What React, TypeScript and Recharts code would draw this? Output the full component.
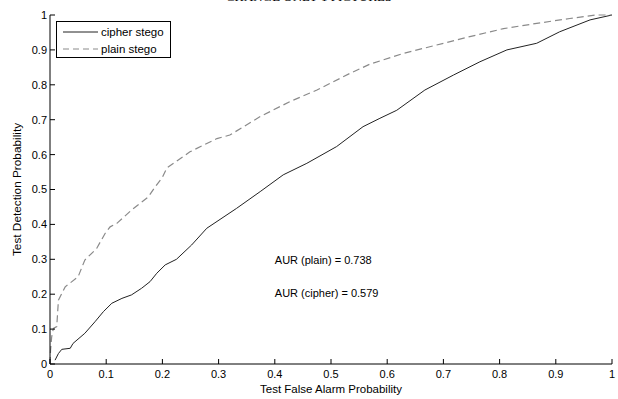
import React from 'react';
import { LineChart, Line, XAxis, YAxis, Legend, ReferenceDot } from 'recharts';

const cipherX = [0.009, 0.015, 0.021, 0.036, 0.041, 0.062, 0.08, 0.095, 0.11, 0.128, 0.145, 0.163, 0.178, 0.19, 0.205, 0.225, 0.252, 0.279, 0.332, 0.374, 0.415, 0.457, 0.51, 0.557, 0.587, 0.617, 0.667, 0.718, 0.765, 0.813, 0.866, 0.907, 0.961, 1.0];
const cipherY = [0.011, 0.03, 0.042, 0.045, 0.059, 0.088, 0.121, 0.15, 0.174, 0.188, 0.198, 0.217, 0.236, 0.26, 0.284, 0.3, 0.341, 0.389, 0.446, 0.494, 0.542, 0.575, 0.623, 0.68, 0.704, 0.727, 0.785, 0.828, 0.866, 0.9, 0.919, 0.952, 0.986, 1.0];

const plainX = [0, 0.001, 0.003, 0.006, 0.012, 0.015, 0.027, 0.05, 0.062, 0.083, 0.098, 0.107, 0.119, 0.145, 0.175, 0.186, 0.2, 0.208, 0.249, 0.297, 0.32, 0.374, 0.427, 0.475, 0.534, 0.569, 0.629, 0.688, 0.747, 0.807, 0.866, 0.925, 0.97, 1.0];
const plainY = [0, 0.04, 0.078, 0.102, 0.107, 0.183, 0.221, 0.25, 0.298, 0.331, 0.374, 0.393, 0.403, 0.441, 0.479, 0.505, 0.535, 0.562, 0.608, 0.646, 0.656, 0.709, 0.752, 0.785, 0.833, 0.859, 0.89, 0.914, 0.938, 0.961, 0.976, 0.99, 1.0, 1.0];

const ticks = [0, 0.1, 0.2, 0.3, 0.4, 0.5, 0.6, 0.7, 0.8, 0.9, 1];
const tickLabels = ['0', '0.1', '0.2', '0.3', '0.4', '0.5', '0.6', '0.7', '0.8', '0.9', '1'];

const seriesNames = ['cipher stego', 'plain stego'];
const titleText = 'CHANGE ONLY 1 PICTURES';
const xLabel = 'Test False Alarm Probability';
const yLabel = 'Test Detection Probability';
const annotations = [
  { x: 0.4, y: 0.298, text: 'AUR (plain) = 0.738' },
  { x: 0.4, y: 0.203, text: 'AUR (cipher) = 0.579' },
];

const cipherData = cipherX.map((x, i) => ({ x, y: cipherY[i] }));
const plainData = plainX.map((x, i) => ({ x, y: plainY[i] }));

const FONT = '"Liberation Sans", Arial, sans-serif';
const fmt = (v: number) => tickLabels[ticks.indexOf(v)] ?? String(v);
const blank = () => '';

const LegendBox = (props: any) => {
  const payload = props.payload || [];
  return (
    <div style={{ border: '1px solid #000', background: '#fff', width: 115, height: 37, boxSizing: 'border-box', fontFamily: FONT }}>
      <svg width={113} height={35} style={{ display: 'block' }}>
        {payload.map((p: any, i: number) => (
          <g key={i}>
            <line x1={6} x2={41} y1={10 + i * 17} y2={10 + i * 17} stroke={p.color} strokeWidth={1} strokeDasharray={i === 1 ? '6 4' : undefined} />
            <text x={44} y={10 + i * 17} dy="0.35em" fill="#000" fontSize={11.5} fontFamily={FONT}>{p.value}</text>
          </g>
        ))}
      </svg>
    </div>
  );
};

export default function App() {
  return (
    <div style={{ position: 'absolute', left: 0, top: 0, width: 618, height: 399, background: '#fff', overflow: 'hidden' }}>
      <div style={{ position: 'absolute', left: 0, width: 618, top: -11, textAlign: 'center', fontFamily: '"Liberation Serif", serif', fontSize: 13, color: '#000' }}>
        {titleText}
      </div>
      <LineChart width={618} height={399} margin={{ top: 15, right: 6, bottom: 0, left: 0 }} style={{ position: 'absolute', left: 0, top: 0 }}>
        <XAxis
          dataKey="x"
          type="number"
          domain={[0, 1]}
          ticks={ticks}
          tickFormatter={fmt}
          height={35}
          tickSize={-5}
          tickMargin={11}
          stroke="#000"
          tick={{ fill: '#000', fontSize: 11, fontFamily: FONT }}
          interval={0}
          label={(props: any) => {
            const vb = props.viewBox;
            return (
              <text x={vb.x + vb.width / 2} y={vb.y + 29} textAnchor="middle" fontSize={11.5} fontFamily={FONT} fill="#000">{xLabel}</text>
            );
          }}
        />
        <XAxis xAxisId="top" orientation="top" type="number" domain={[0, 1]} ticks={ticks} tickFormatter={blank} height={0} tickSize={-5} stroke="#000" interval={0} />
        <YAxis
          type="number"
          domain={[0, 1]}
          ticks={ticks}
          tickFormatter={fmt}
          width={50}
          tickSize={-5}
          tickMargin={8}
          stroke="#000"
          tick={{ fill: '#000', fontSize: 11, fontFamily: FONT }}
          interval={0}
          label={(props: any) => {
            const vb = props.viewBox;
            const cx = vb.x + 17;
            const cy = vb.y + vb.height / 2;
            return (
              <text x={cx} y={cy} textAnchor="middle" dominantBaseline="central" transform={`rotate(-90 ${cx} ${cy})`} fontSize={11.8} fontFamily={FONT} fill="#000">{yLabel}</text>
            );
          }}
        />
        <YAxis yAxisId="right" orientation="right" type="number" domain={[0, 1]} ticks={ticks} tickFormatter={blank} width={0} tickSize={-5} stroke="#000" interval={0} />
        <Line data={cipherData} dataKey="y" name={seriesNames[0]} stroke="#222" strokeWidth={1} dot={false} isAnimationActive={false} />
        <Line data={plainData} dataKey="y" name={seriesNames[1]} stroke="#8a8a8a" strokeWidth={1.2} strokeDasharray="7 4" dot={false} isAnimationActive={false} />
        {annotations.map((a, i) => (
          <ReferenceDot key={i} x={a.x} y={a.y} r={0} stroke="none" fill="none"
            label={{ value: a.text, position: 'right', offset: 0, fill: '#000', fontSize: 11, fontFamily: FONT }} />
        ))}
        <Legend layout="vertical" align="center" verticalAlign="middle" content={<LegendBox />}
          wrapperStyle={{ position: 'absolute', left: 56, top: 21, width: 115, height: 37 }} />
      </LineChart>
    </div>
  );
}
